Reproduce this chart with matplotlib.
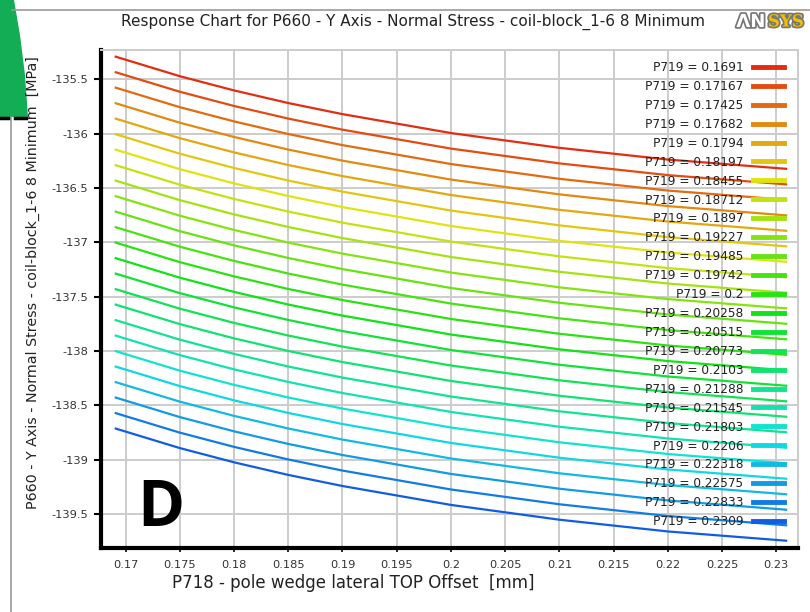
import colorsys
import matplotlib
matplotlib.use("Agg")
import matplotlib.pyplot as plt
import matplotlib.patheffects as pe
from matplotlib.patches import Polygon
from matplotlib.lines import Line2D

# P718 values where the response was sampled
p718 = [0.1691, 0.175, 0.18, 0.185, 0.19, 0.2, 0.21, 0.22, 0.2309]

# P719 levels (one curve each)
p719 = ["0.1691", "0.17167", "0.17425", "0.17682", "0.1794", "0.18197", "0.18455",
        "0.18712", "0.1897", "0.19227", "0.19485", "0.19742", "0.2", "0.20258",
        "0.20515", "0.20773", "0.2103", "0.21288", "0.21545", "0.21803", "0.2206",
        "0.22318", "0.22575", "0.22833", "0.2309"]

# P660 normal stress [MPa], one row per P719 level
stress = [
    [-135.293, -135.472, -135.603, -135.719, -135.821, -135.995, -136.131, -136.239, -136.324],
    [-135.436, -135.615, -135.746, -135.862, -135.964, -136.138, -136.274, -136.382, -136.467],
    [-135.578, -135.757, -135.888, -136.004, -136.106, -136.280, -136.416, -136.524, -136.609],
    [-135.721, -135.900, -136.031, -136.147, -136.249, -136.423, -136.559, -136.667, -136.752],
    [-135.863, -136.042, -136.173, -136.289, -136.391, -136.565, -136.701, -136.809, -136.894],
    [-136.006, -136.185, -136.316, -136.432, -136.534, -136.708, -136.844, -136.952, -137.037],
    [-136.148, -136.327, -136.458, -136.574, -136.676, -136.850, -136.986, -137.094, -137.179],
    [-136.291, -136.470, -136.601, -136.717, -136.819, -136.993, -137.129, -137.237, -137.322],
    [-136.433, -136.612, -136.743, -136.859, -136.961, -137.135, -137.271, -137.379, -137.464],
    [-136.576, -136.755, -136.886, -137.002, -137.104, -137.278, -137.414, -137.522, -137.607],
    [-136.718, -136.897, -137.028, -137.144, -137.246, -137.420, -137.556, -137.664, -137.749],
    [-136.861, -137.040, -137.171, -137.287, -137.389, -137.563, -137.699, -137.807, -137.892],
    [-137.003, -137.182, -137.313, -137.429, -137.531, -137.705, -137.841, -137.949, -138.034],
    [-137.146, -137.325, -137.456, -137.572, -137.674, -137.848, -137.984, -138.092, -138.177],
    [-137.288, -137.467, -137.598, -137.714, -137.816, -137.990, -138.126, -138.234, -138.319],
    [-137.431, -137.610, -137.741, -137.857, -137.959, -138.133, -138.269, -138.377, -138.462],
    [-137.573, -137.752, -137.883, -137.999, -138.101, -138.275, -138.411, -138.519, -138.604],
    [-137.716, -137.895, -138.026, -138.142, -138.244, -138.418, -138.554, -138.662, -138.747],
    [-137.858, -138.037, -138.168, -138.284, -138.386, -138.560, -138.696, -138.804, -138.889],
    [-138.001, -138.180, -138.311, -138.427, -138.529, -138.703, -138.839, -138.947, -139.032],
    [-138.143, -138.322, -138.453, -138.569, -138.671, -138.845, -138.981, -139.089, -139.174],
    [-138.286, -138.465, -138.596, -138.712, -138.814, -138.988, -139.124, -139.232, -139.317],
    [-138.428, -138.607, -138.738, -138.854, -138.956, -139.130, -139.266, -139.374, -139.459],
    [-138.571, -138.750, -138.881, -138.997, -139.099, -139.273, -139.409, -139.517, -139.602],
    [-138.713, -138.892, -139.023, -139.139, -139.241, -139.415, -139.551, -139.659, -139.744],
]

x_ticks = [0.17, 0.175, 0.18, 0.185, 0.19, 0.195, 0.2, 0.205, 0.21, 0.215, 0.22, 0.225, 0.23]
y_ticks = [-135.5, -136, -136.5, -137, -137.5, -138, -138.5, -139, -139.5]

fig = plt.figure(figsize=(8.1, 6.12), dpi=100)
fig.patch.set_facecolor("white")
ax = fig.add_axes([0.1247, 0.1046, 0.8603, 0.8134])

# colours: red -> yellow -> green -> cyan -> blue
n = len(p719)
for i, (lev, vals) in enumerate(zip(p719, stress)):
    h = (8 + 210 * i / (n - 1)) / 360
    col = colorsys.hsv_to_rgb(h, 0.93, 0.89)
    ax.plot(p718, vals, color=col, lw=1.6, label=f"P719 = {lev}")

ax.set_xlim(0.16774, 0.23198)
ax.set_ylim(-139.811, -135.233)
ax.set_xticks(x_ticks)
ax.set_xticklabels([f"{v:g}" for v in x_ticks])
ax.set_yticks(y_ticks)
ax.set_yticklabels([f"{v:g}" for v in y_ticks])
ax.grid(color="#cccccc", lw=1.4)
ax.set_axisbelow(True)

for s in ["top", "right"]:
    ax.spines[s].set_color("#cccccc")
    ax.spines[s].set_linewidth(1.4)
for s in ["left", "bottom"]:
    ax.spines[s].set_color("black")
    ax.spines[s].set_linewidth(3)
ax.tick_params(axis="y", length=5, width=1.5, color="black", labelsize=8.2,
               labelcolor="#333333", pad=4)
ax.tick_params(axis="x", length=3, width=1.2, color="black", labelsize=8.2,
               labelcolor="#333333", pad=6)

leg = ax.legend(loc="upper right", bbox_to_anchor=(1.0, 1.006), frameon=False,
                markerfirst=False, fontsize=8.7, handlelength=2.6, handletextpad=0.75,
                labelspacing=0.49, borderaxespad=0.75)
for t in leg.get_texts():
    t.set_color("#222222")
for hl in leg.get_lines():
    hl.set_linewidth(3.5)

# titles
fig.text(0.51, 0.964, "Response Chart for P660 - Y Axis - Normal Stress - coil-block_1-6 8 Minimum",
         ha="center", va="center", fontsize=11, color="#222222")
fig.text(0.436, 0.047, "P718 - pole wedge lateral TOP Offset  [mm]",
         ha="center", va="center", fontsize=12, color="#222222")
fig.text(0.041, 0.539, "P660 - Y Axis - Normal Stress - coil-block_1-6 8 Minimum  [MPa]",
         ha="center", va="center", rotation=90, fontsize=10.3, color="#222222")

# panel letter
ax.text(0.17327, -139.46, "D", ha="center", va="center", fontsize=46,
        fontweight="bold", color="black", family="Open Sans")

# frame lines of the screenshot
fig.add_artist(Line2D([12 / 810, 1], [1 - 10 / 612, 1 - 10 / 612], color="#999999", lw=1.2))
fig.add_artist(Line2D([11 / 810, 11 / 810], [0, 1 - 117 / 612], color="#999999", lw=1.2))

# green tab in the corner
gx = [0, 14, 20, 25, 28, 0]
gy = [0, 0, 35, 75, 117, 117]
fig.add_artist(Polygon([(a / 810, 1 - b / 612) for a, b in zip(gx, gy)], closed=True,
                       facecolor="#12ad55", edgecolor="none"))
fig.add_artist(Line2D([0, 8 / 810], [1 - 118 / 612] * 2, color="black", lw=2.5))
fig.add_artist(Line2D([15 / 810, 26 / 810], [1 - 118 / 612] * 2, color="black", lw=2.5))

# logo
stroke = [pe.withStroke(linewidth=2.5, foreground="#777777")]
fig.text(0.909, 0.964, "ΛN", ha="left", va="center", fontsize=13, fontweight="bold",
         color="white", path_effects=stroke, family="DejaVu Sans")
fig.text(0.948, 0.964, "SYS", ha="left", va="center", fontsize=12, fontweight="bold",
         color="#f0c000", path_effects=stroke, family="DejaVu Serif")

fig.savefig("out.png", dpi=100)
